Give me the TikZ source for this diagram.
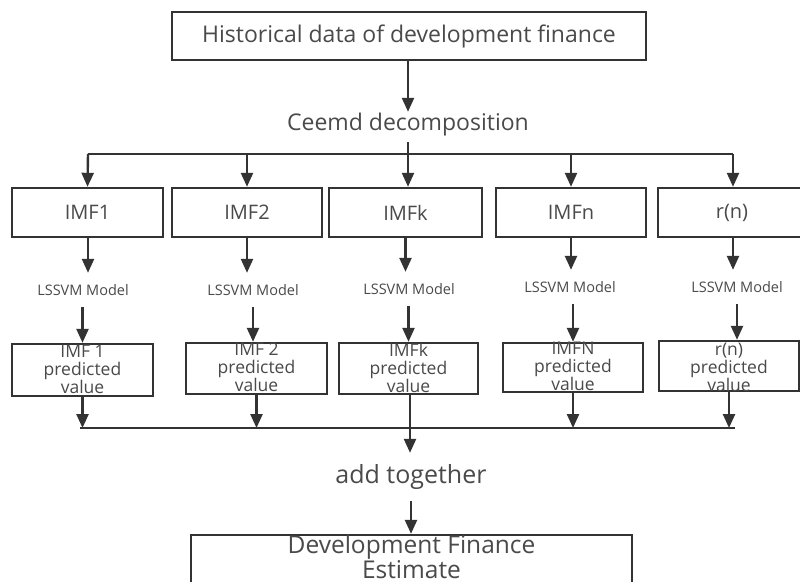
\documentclass[tikz,border=0pt]{standalone}
\usepackage{fontspec}
\setmainfont{Open Sans}
\usetikzlibrary{arrows.meta}
\definecolor{linec}{HTML}{333333}
\definecolor{textc}{HTML}{4A4A4A}
\tikzset{
  box/.style={draw=linec, line width=2.4pt, inner sep=0pt, text=textc},
  lbl/.style={inner sep=0pt, text=textc, align=center},
  arr/.style={draw=linec, line width=2.4pt, -{Triangle[width=12pt,length=14pt]}},
  plain/.style={draw=linec, line width=2.4pt},
  big/.style={font=\fontsize{23}{27}\selectfont},
  imf/.style={font=\fontsize{20}{24}\selectfont},
  mid/.style={font=\fontsize{14.5}{17}\selectfont},
  small/.style={font=\fontsize{17.5}{18}\selectfont},
}
\begin{document}
\begin{tikzpicture}[x=1pt,y=-1pt]
\useasboundingbox (0,0) rectangle (800,581);
\clip (0,0) rectangle (800,581);
\fill[white] (0,0) rectangle (800,581);

% top
\node[box, big, minimum width=474pt, minimum height=48pt] (hist) at (409,36) {Historical data of development finance};
\node[lbl, big, minimum height=26pt] (ceemd) at (408,125) {Ceemd decomposition};

% bus 1
\coordinate (t1) at (88,154);
\coordinate (t2) at (247,154);
\coordinate (t4) at (571,154);
\coordinate (t5) at (733,154);

% IMF boxes
\node[box, imf, minimum width=151pt, minimum height=49pt] (i1) at (87.5,212.5) {IMF1};
\node[box, imf, minimum width=150pt, minimum height=49pt] (i2) at (247,212.5) {IMF2};
\node[box, imf, minimum width=153pt, minimum height=49pt] (i3) at (405.5,212.5) {IMFk};
\node[box, imf, minimum width=150pt, minimum height=49pt] (i4) at (571,212.5) {IMFn};
\node[box, imf, minimum width=148pt, minimum height=49pt] (i5) at (732,212.5) {r(n)};

% LSSVM labels
\node[lbl, mid, minimum height=34pt] (l1) at (83,290) {LSSVM Model};
\node[lbl, mid, minimum height=34pt] (l2) at (253,290) {LSSVM Model};
\node[lbl, mid, minimum height=34pt] (l3) at (409,289) {LSSVM Model};
\node[lbl, mid, minimum height=34pt] (l4) at (570,287) {LSSVM Model};
\node[lbl, mid, minimum height=34pt] (l5) at (737,287) {LSSVM Model};

% predicted boxes
\node[box, minimum width=141pt, minimum height=52pt] (p1) at (82.5,370) {};
\node[box, minimum width=141pt, minimum height=51pt] (p2) at (256.5,368.5) {};
\node[box, minimum width=139pt, minimum height=51pt] (p3) at (408.5,368.5) {};
\node[box, minimum width=140pt, minimum height=49pt] (p4) at (573,367.5) {};
\node[box, minimum width=140pt, minimum height=50pt] (p5) at (729,366) {};
\node[lbl, small] at ([yshift=1pt]p1.center) {IMF 1\\predicted\\value};
\node[lbl, small] at ([yshift=1pt]p2.center) {IMF 2\\predicted\\value};
\node[lbl, small] at ([yshift=1pt]p3.center) {IMFk\\predicted\\value};
\node[lbl, small] at ([yshift=1pt]p4.center) {IMFN\\predicted\\value};
\node[lbl, small] at ([yshift=-1pt]p5.center) {r(n)\\predicted\\value};

% bus 2
\coordinate (b1) at (82.5,428);
\coordinate (b2) at (256.5,428);
\coordinate (b4) at (573,428);
\coordinate (b5) at (729,428);
\coordinate (bl) at (80,428);
\coordinate (br) at (735,428);

\node[lbl, font=\fontsize{25}{30}\selectfont, minimum height=48pt] (add) at (411,477) {add together};

% final box
\node[box, minimum width=441pt, minimum height=58pt] (fin) at (411.5,564) {};
\node[lbl, font=\fontsize{24.5}{23.5}\selectfont, anchor=north, text depth=0pt] at ([yshift=-1pt]fin.north) {Development Finance\\Estimate};

% connectors
\draw[arr] (hist.south -| ceemd) -- (ceemd.north);
\draw[plain] (t1) -- (t5);
\draw[arr, shorten <=4pt] (ceemd.south) -- (ceemd.south |- i3.north);
\draw[arr] (t1) -- (i1.north);
\draw[arr] (t2) -- (i2.north);
\draw[arr] (t4) -- (i4.north);
\draw[arr] (t5) -- (t5 |- i5.north);

\draw[arr] (i1.south -| t1) -- (t1 |- l1.north);
\draw[arr] (i2.south) -- (i2.south |- l2.north);
\draw[arr] (i3.south) -- (i3.south |- l3.north);
\draw[arr] (i4.south) -- (i4.south |- l4.north);
\draw[arr] (t5 |- i5.south) -- (t5 |- l5.north);

\draw[arr] (p1.north |- l1.south) -- (p1.north);
\draw[arr] (l2.south) -- (l2.south |- p2.north);
\draw[arr] (p3.north |- l3.south) -- (p3.north);
\draw[arr] (p4.north |- l4.south) -- (p4.north);
\draw[arr] (l5.south) -- (l5.south |- p5.north);

\draw[plain] (bl) -- (br);
\draw[arr] (p1.south) -- (b1);
\draw[arr] (p2.south) -- (b2);
\draw[arr] (p4.south) -- (b4);
\draw[arr] (p5.south) -- (b5);
\draw[arr] ([xshift=1.5pt]p3.south) -- ([xshift=1.5pt]p3.south |- add.north);
\draw[arr] (add.south) -- (fin.north -| add.south);
\end{tikzpicture}
\end{document}
